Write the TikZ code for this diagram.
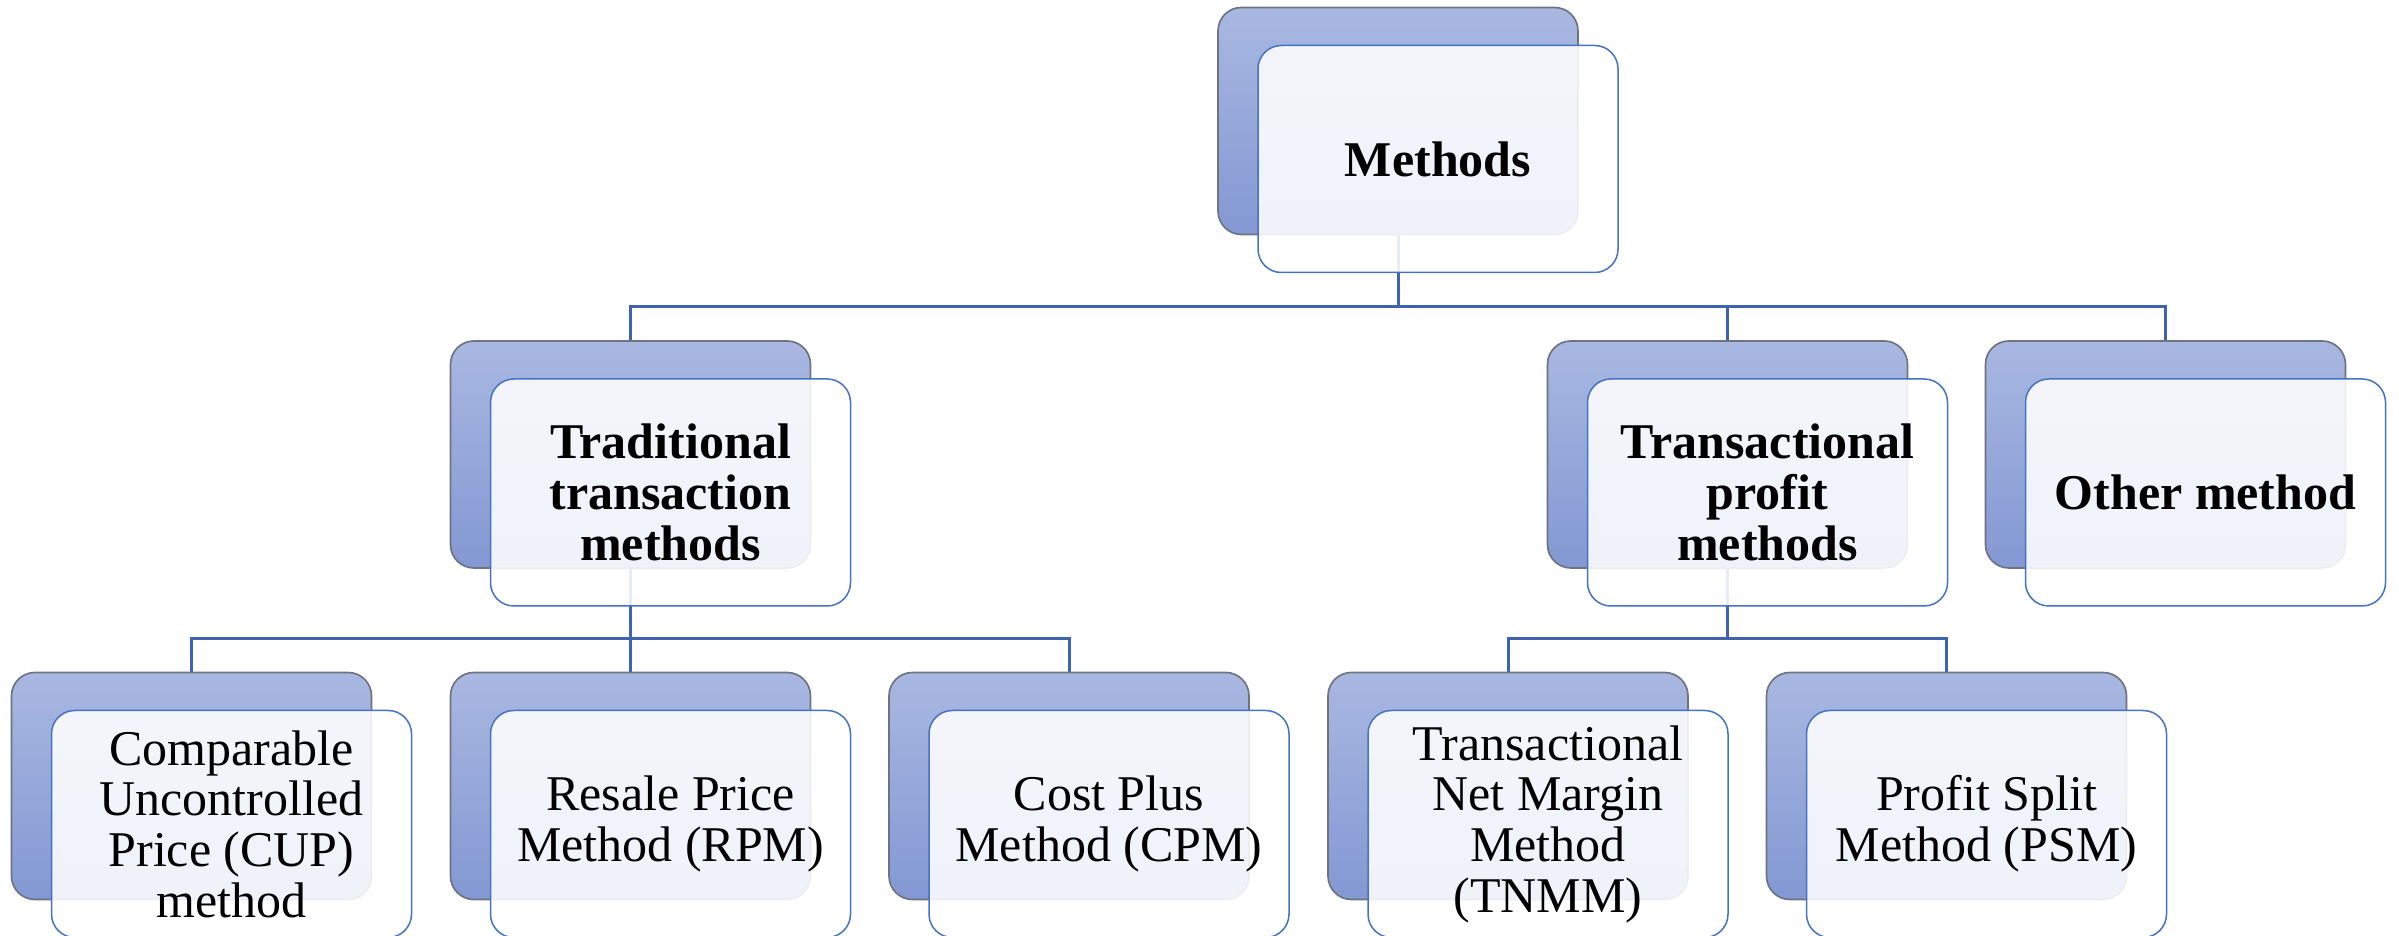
\documentclass[tikz,border=0pt]{standalone}
\usepackage{fontspec}
\setmainfont{Liberation Serif}
\usetikzlibrary{calc}
\pgfdeclarelayer{bg}
\pgfsetlayers{bg,main}
\definecolor{backtop}{HTML}{A9B8E1}
\definecolor{backbot}{HTML}{8398D3}
\definecolor{backline}{HTML}{6F7380}
\definecolor{frontline}{HTML}{4472C4}
\definecolor{linkblue}{HTML}{3F63AE}
\tikzset{
  backbox/.style={rectangle, rounded corners=7pt, minimum width=108pt,
    minimum height=68.1pt, top color=backtop, bottom color=backbot,
    draw=backline, line width=0.5pt},
  frontbox/.style={rectangle, rounded corners=7pt, minimum width=108pt,
    minimum height=68.1pt, fill=white, fill opacity=0.88, text opacity=1,
    draw=frontline, line width=0.45pt, align=center, inner sep=0pt,
    font=\fontsize{15pt}{15.2pt}\selectfont},
  headfont/.style={font=\fontsize{15pt}{15.2pt}\selectfont\bfseries},
  link/.style={draw=linkblue, line width=0.9pt},
}
% a card: shaded back panel plus a lighter front panel carrying the text
\newcommand\card[5]{%
  \node[backbox] (#1B) at (#2,#3) {};
  \node[frontbox,#5] (#1) at ($(#1B)+(40,38)$) {#4};}
\begin{document}
\begin{tikzpicture}[x=0.3pt,y=-0.3pt]
\useasboundingbox (0,0) rectangle (2399,936);

% top level
\card{m}{1398}{121}{Methods}{headfont}

% method families
\card{trad}{630.5}{454.5}{Traditional\\transaction\\methods}{headfont}
\card{tp}{1727.5}{454.5}{Transactional\\profit\\methods}{headfont}
\card{other}{2165.5}{454.5}{Other method}{headfont}

% individual methods
\card{cup}{191.5}{786}{Comparable\\Uncontrolled\\Price (CUP)\\method}{}
\card{rpm}{630.5}{786}{Resale Price\\Method (RPM)}{}
\card{cpm}{1069}{786}{Cost Plus\\Method (CPM)}{}
\card{tnmm}{1508}{786}{Transactional\\Net Margin\\Method\\(TNMM)}{}
\card{psm}{1946.5}{786}{Profit Split\\Method (PSM)}{}

% bus heights of the tree connectors
\coordinate (bus1) at (0,307);
\coordinate (bus2) at (0,639);

\begin{pgfonlayer}{bg}
  \draw[link] (mB.south) |- (tradB.north |- bus1) -- (tradB.north);
  \draw[link] (mB.south) |- (tpB.north |- bus1) -- (tpB.north);
  \draw[link] (mB.south) |- (otherB.north |- bus1) -- (otherB.north);

  \draw[link] (tradB.south) |- (cupB.north |- bus2) -- (cupB.north);
  \draw[link] (tradB.south) -- (rpmB.north);
  \draw[link] (tradB.south) |- (cpmB.north |- bus2) -- (cpmB.north);

  \draw[link] (tpB.south) |- (tnmmB.north |- bus2) -- (tnmmB.north);
  \draw[link] (tpB.south) |- (psmB.north |- bus2) -- (psmB.north);
\end{pgfonlayer}
\end{tikzpicture}
\end{document}
